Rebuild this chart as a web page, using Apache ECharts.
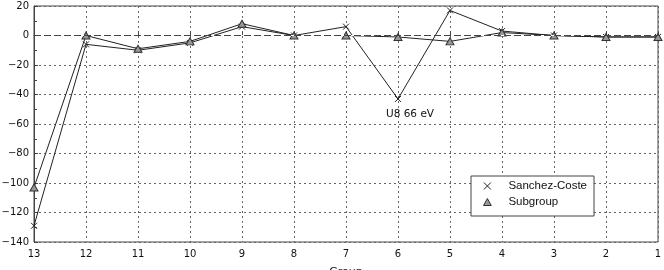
<!DOCTYPE html>
<html>
<head>
<meta charset="utf-8">
<script src="https://cdn.jsdelivr.net/npm/echarts@6/dist/echarts.min.js"></script>
<style>
  html, body { margin: 0; padding: 0; background: #fff; }
  #chart { width: 664px; height: 270px; }
</style>
</head>
<body>
<div id="chart"></div>
<script>
// groups run from 13 down to 1
const groups = ['13', '12', '11', '10', '9', '8', '7', '6', '5', '4', '3', '2', '1']
const sanchezCoste = [-129, -6, -10, -5, 6, 0, 6, -43, 17, 3, 0, -1, -1]
const subgroup = [-103, 0, -9, -4, 8, 0, 0, -1, -4, 2, 0, -1, -1]
const yTicks = { min: -140, max: 20, step: 20 }
const note = { group: '6', value: -43, text: 'U8 66 eV' }

const crossPath = 'path://M0,0L10,10M10,0L0,10'
const triPath = 'path://M5,0L10,9L0,9Z'

const chart = echarts.init(document.getElementById('chart'))

const option = {
  animation: false,
  backgroundColor: '#fff',
  textStyle: { fontFamily: 'DejaVu Sans' },
  grid: {
    left: 34, right: 6, top: 6, bottom: 28,
    outerBoundsMode: 'none',
    containLabel: false,
    show: true, borderColor: '#444', borderWidth: 1
  },
  legend: {
    orient: 'vertical',
    left: 471, top: 176,
    padding: [3, 7, 7, 12],
    itemWidth: 22, itemHeight: 7,
    itemGap: 2,
    backgroundColor: '#fff',
    borderColor: '#444', borderWidth: 1,
    textStyle: { fontFamily: 'Liberation Sans', fontSize: 11.5, color: '#111', padding: [0, 0, 0, 5], lineHeight: 14 },
    data: [
      { name: 'Sanchez-Coste', icon: crossPath, itemStyle: { color: 'transparent', borderColor: '#222', borderWidth: 1 } },
      { name: 'Subgroup', icon: triPath, itemStyle: { color: '#999', borderColor: '#333', borderWidth: 1 } }
    ]
  },
  xAxis: {
    type: 'category',
    data: groups,
    boundaryGap: false,
    name: 'Group',
    nameLocation: 'middle',
    nameGap: 25,
    nameTextStyle: { fontSize: 11, color: '#111' },
    axisLine: { lineStyle: { color: '#444' } },
    axisTick: { inside: true, length: 4, lineStyle: { color: '#444' } },
    axisLabel: { color: '#111', fontSize: 10, margin: 7 },
    splitLine: { show: true, lineStyle: { color: '#666', type: [2, 3] } }
  },
  yAxis: {
    type: 'value',
    min: yTicks.min, max: yTicks.max, interval: yTicks.step,
    axisLine: { show: true, lineStyle: { color: '#444' } },
    axisTick: { show: true, inside: true, length: 4, lineStyle: { color: '#444' } },
    minorTick: { show: true, splitNumber: 2, length: 3, lineStyle: { color: '#444' } },
    axisLabel: {
      color: '#111', fontSize: 10, margin: 5,
      formatter: v => String(v).replace('-', '\u2212')
    },
    splitLine: { show: true, lineStyle: { color: '#666', type: [2, 3] } }
  },
  series: [
    {
      name: 'Sanchez-Coste',
      type: 'line',
      data: sanchezCoste,
      symbol: crossPath,
      symbolSize: 6,
      showAllSymbol: true,
      lineStyle: { color: '#222', width: 1 },
      itemStyle: { color: 'transparent', borderColor: '#222', borderWidth: 1 },
      markLine: {
        silent: true,
        symbol: 'none',
        label: { show: false },
        data: [
          // white line first so the dotted grid line at 0 does not show through
          { yAxis: 0, lineStyle: { color: '#fff', type: 'solid', width: 1 } },
          { yAxis: 0, lineStyle: { color: '#444', type: [7, 3], width: 1 } }
        ]
      },
      markPoint: {
        symbol: 'circle',
        symbolSize: 0,
        label: {
          show: true,
          formatter: note.text,
          color: '#111',
          fontSize: 10.5,
          offset: [12, 15]
        },
        data: [{ coord: [note.group, note.value] }]
      },
      z: 3
    },
    {
      name: 'Subgroup',
      type: 'line',
      data: subgroup,
      symbol: triPath,
      symbolSize: [8, 7],
      showAllSymbol: true,
      lineStyle: { color: '#222', width: 1 },
      itemStyle: { color: '#999', borderColor: '#333', borderWidth: 1 },
      z: 4
    }
  ]
}

chart.setOption(option)
</script>
</body>
</html>
